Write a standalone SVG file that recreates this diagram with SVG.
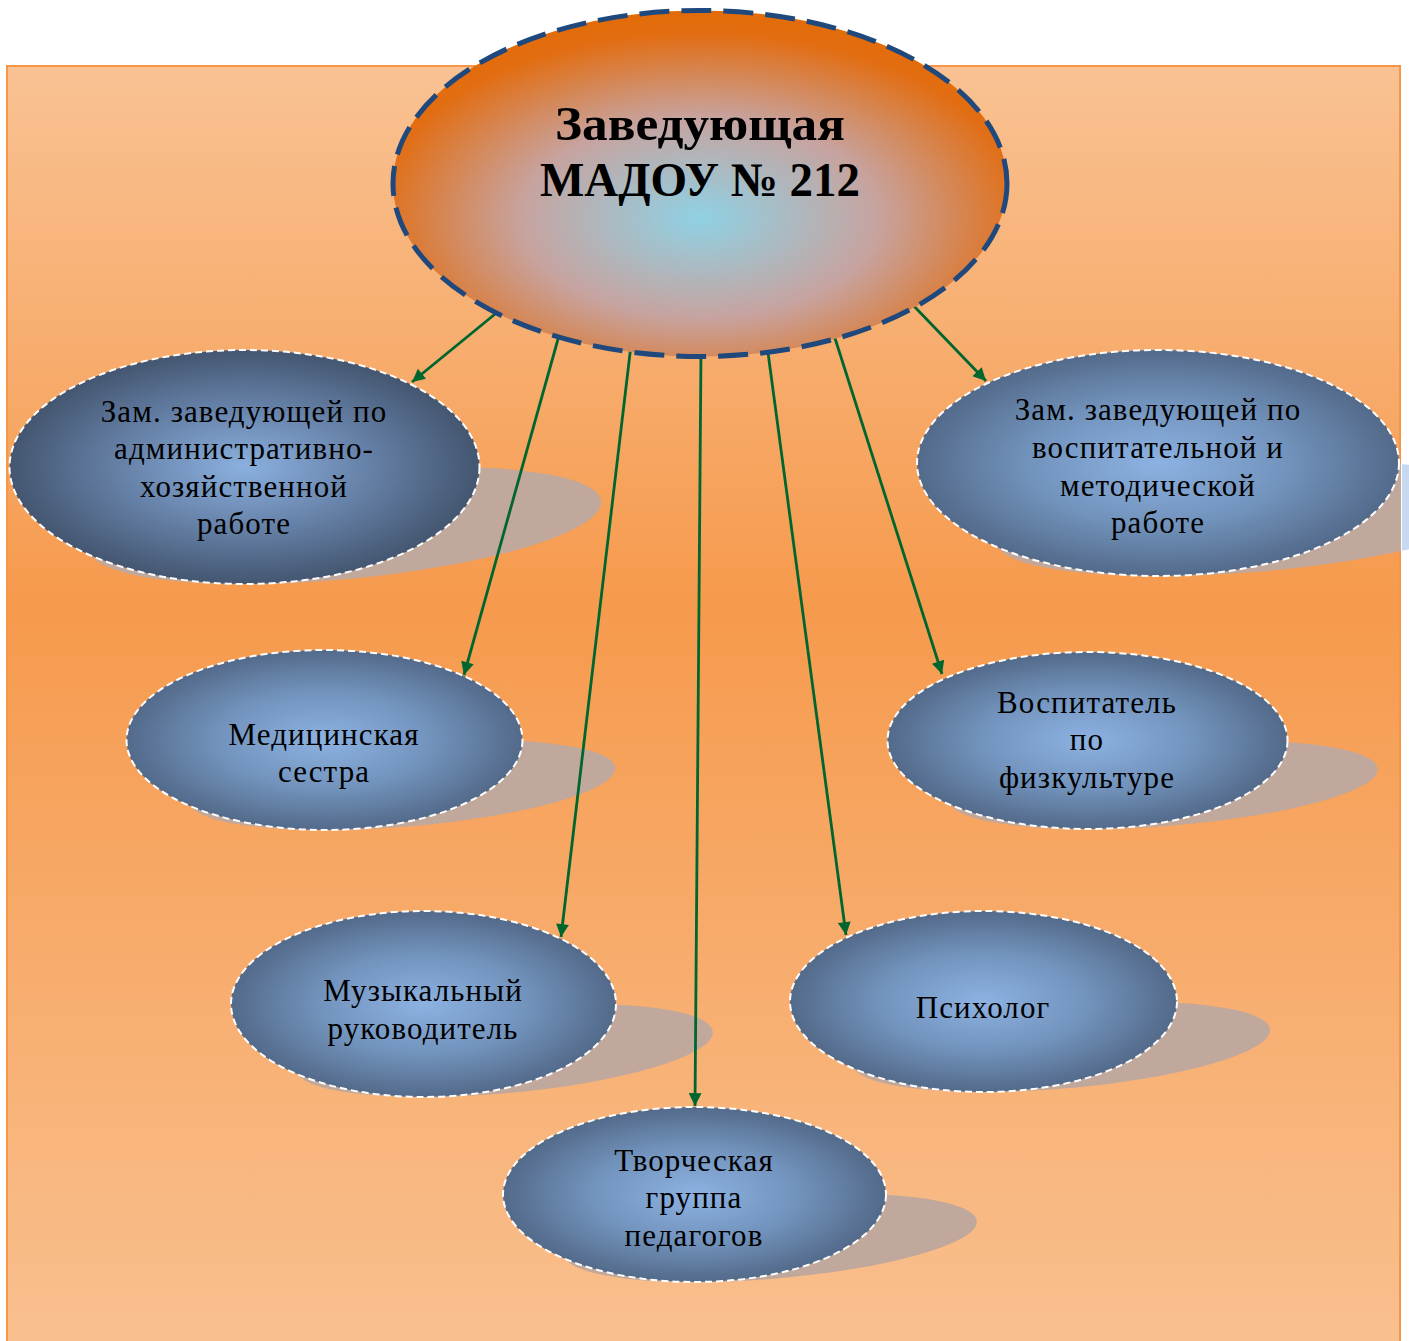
<svg xmlns="http://www.w3.org/2000/svg" width="1409" height="1341" viewBox="0 0 1409 1341">
<style>
.node-text{font-family:"Liberation Serif","DejaVu Serif",serif;font-size:31px;fill:#000;text-anchor:middle;letter-spacing:1.1px}
.title{font-family:"Liberation Serif","DejaVu Serif",serif;font-size:48px;font-weight:bold;fill:#000;text-anchor:middle}
.node{stroke:#fff;stroke-width:2;stroke-dasharray:7 4}
.shadow{fill:#c0a89c}
.conn{stroke:#00662f;stroke-width:2.8;fill:none;marker-end:url(#arrow)}
</style>
<defs>
<linearGradient id="bg" x1="0" y1="0" x2="0" y2="1">
<stop offset="0" stop-color="#f9c293"/>
<stop offset="0.42" stop-color="#f69a4d"/>
<stop offset="1" stop-color="#f9c08f"/>
</linearGradient>
<radialGradient id="topg" cx="0.5" cy="0.6" r="0.58">
<stop offset="0" stop-color="#8fd1e4"/>
<stop offset="0.5" stop-color="#c7a39f"/>
<stop offset="0.92" stop-color="#e26d12"/>
<stop offset="1" stop-color="#e36c0a"/>
</radialGradient>
<radialGradient id="ng" cx="0.5" cy="0.5" r="0.5">
<stop offset="0" stop-color="#8db2e2"/>
<stop offset="0.55" stop-color="#7192bb"/>
<stop offset="1" stop-color="#536a8a"/>
</radialGradient>
<radialGradient id="ng1" cx="0.5" cy="0.5" r="0.5">
<stop offset="0" stop-color="#8bb0df"/>
<stop offset="0.55" stop-color="#647fa5"/>
<stop offset="1" stop-color="#445670"/>
</radialGradient>
<marker id="arrow" viewBox="0 0 10 10" refX="10" refY="5" markerWidth="5.2" markerHeight="4.6" orient="auto" markerUnits="strokeWidth">
<path d="M0,0 L10,5 L0,10 z" fill="#00662f"/>
</marker>
<clipPath id="inside"><rect x="6" y="65" width="1395" height="1276"/></clipPath>
<clipPath id="outside"><rect x="1402" y="462" width="7" height="120"/></clipPath>
</defs>

<rect x="0" y="0" width="1409" height="1341" fill="#fff"/>
<rect id="background" x="7" y="66" width="1393" height="1280" fill="url(#bg)" stroke="#f79646" stroke-width="2"/>

<g id="node-admin">
<g clip-path="url(#inside)"><ellipse class="shadow" transform="translate(244,584) skewX(-60)" cx="0" cy="-58.5" rx="235" ry="58.5"/></g>
<ellipse class="node" cx="244.5" cy="467" rx="235" ry="117" fill="url(#ng1)"/>
<text class="node-text"><tspan x="244" y="422">Зам. заведующей по</tspan><tspan x="244" y="459">административно-</tspan><tspan x="244" y="497">хозяйственной</tspan><tspan x="244" y="534">работе</tspan></text>
</g>

<g id="node-method">
<g clip-path="url(#inside)"><ellipse class="shadow" transform="translate(1158,576) skewX(-60)" cx="0" cy="-56.5" rx="241" ry="56.5"/></g>
<g clip-path="url(#outside)"><ellipse fill="#c6d9f1" transform="translate(1158,576) skewX(-60)" cx="0" cy="-56.5" rx="241" ry="56.5"/></g>
<ellipse class="node" cx="1158" cy="463" rx="241" ry="113" fill="url(#ng)"/>
<text class="node-text"><tspan x="1158" y="420">Зам. заведующей по</tspan><tspan x="1158" y="458">воспитательной и</tspan><tspan x="1158" y="496">методической</tspan><tspan x="1158" y="533">работе</tspan></text>
</g>

<g id="node-nurse">
<ellipse class="shadow" transform="translate(324.5,830) skewX(-60)" cx="0" cy="-45" rx="198" ry="45"/>
<ellipse class="node" cx="324.5" cy="740" rx="198" ry="90" fill="url(#ng)"/>
<text class="node-text"><tspan x="324" y="745">Медицинская</tspan><tspan x="324" y="782">сестра</tspan></text>
</g>

<g id="node-pe">
<ellipse class="shadow" transform="translate(1087.5,829) skewX(-60)" cx="0" cy="-44" rx="200" ry="44"/>
<ellipse class="node" cx="1087.5" cy="740.5" rx="200" ry="88.5" fill="url(#ng)"/>
<text class="node-text"><tspan x="1087" y="713">Воспитатель</tspan><tspan x="1087" y="750">по</tspan><tspan x="1087" y="788">физкультуре</tspan></text>
</g>

<g id="node-music">
<ellipse class="shadow" transform="translate(423.5,1097) skewX(-60)" cx="0" cy="-46.5" rx="192.5" ry="46.5"/>
<ellipse class="node" cx="423.5" cy="1004" rx="192.5" ry="93" fill="url(#ng)"/>
<text class="node-text"><tspan x="423" y="1001">Музыкальный</tspan><tspan x="423" y="1039">руководитель</tspan></text>
</g>

<g id="node-psych">
<ellipse class="shadow" transform="translate(983.5,1092) skewX(-60)" cx="0" cy="-45" rx="193.5" ry="45"/>
<ellipse class="node" cx="983.5" cy="1001.5" rx="193.5" ry="90.5" fill="url(#ng)"/>
<text class="node-text"><tspan x="983" y="1018">Психолог</tspan></text>
</g>

<g id="node-creative">
<ellipse class="shadow" transform="translate(694.5,1282) skewX(-60)" cx="0" cy="-44" rx="191.5" ry="44"/>
<ellipse class="node" cx="694.5" cy="1194.5" rx="191.5" ry="87.5" fill="url(#ng)"/>
<text class="node-text"><tspan x="694" y="1171">Творческая</tspan><tspan x="694" y="1208">группа</tspan><tspan x="694" y="1246">педагогов</tspan></text>
</g>

<g id="connectors">
<line class="conn" x1="500" y1="310" x2="412" y2="382"/>
<line class="conn" x1="560" y1="332" x2="464" y2="675"/>
<line class="conn" x1="631" y1="345" x2="561" y2="937"/>
<line class="conn" x1="701" y1="350" x2="695" y2="1106"/>
<line class="conn" x1="767" y1="345" x2="846" y2="935"/>
<line class="conn" x1="833" y1="332" x2="942" y2="674"/>
<line class="conn" x1="910" y1="302" x2="986" y2="381"/>
</g>

<g id="node-head">
<ellipse cx="700" cy="183.5" rx="307" ry="173" fill="url(#topg)" stroke="#1f497d" stroke-width="5" stroke-dasharray="30 12"/>
<text class="title"><tspan x="700" y="140" textLength="290" lengthAdjust="spacingAndGlyphs">Заведующая</tspan><tspan x="700" y="196" textLength="320" lengthAdjust="spacingAndGlyphs">МАДОУ № 212</tspan></text>
</g>
</svg>
